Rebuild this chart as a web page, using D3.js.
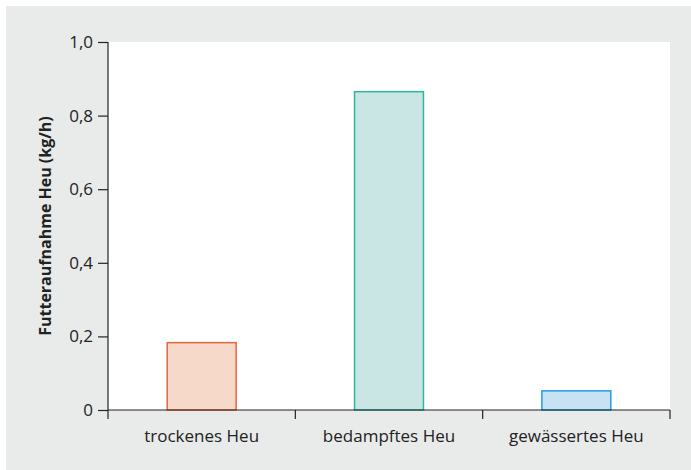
<!DOCTYPE html>
<html>
<head>
<meta charset="utf-8">
<script src="https://cdn.jsdelivr.net/npm/d3@7"></script>
<style>
  body { margin: 0; background: #fff; }
  text { font-family: 'Open Sans', sans-serif; fill: #222; }
</style>
</head>
<body>
<div id="chart"></div>
<script>
const categories = ['trockenes Heu', 'bedampftes Heu', 'gewässertes Heu'];
const values = [0.183, 0.865, 0.052];
const fills = ['#f6d9c8', '#c9e6e4', '#c8e1f3'];
const strokes = ['#e2673f', '#2db4a6', '#22a0de'];
const yTicks = [0, 0.2, 0.4, 0.6, 0.8, 1.0];

const width = 691;
const height = 470;
const margin = {top: 42, right: 21, bottom: 60, left: 108};
const innerWidth = width - margin.left - margin.right;
const innerHeight = height - margin.top - margin.bottom;

const svg = d3.select('#chart').append('svg')
  .attr('width', width)
  .attr('height', height);

// grey panel
svg.append('rect')
  .attr('x', 6).attr('y', 6)
  .attr('width', width - 6).attr('height', height - 6)
  .attr('fill', '#e9eaea');

const g = svg.append('g')
  .attr('transform', `translate(${margin.left}, ${margin.top})`);

g.append('rect')
  .attr('width', innerWidth)
  .attr('height', innerHeight)
  .attr('fill', '#fff');

const yScale = d3.scaleLinear()
  .domain([0, 1])
  .range([innerHeight, 0]);

const xScale = d3.scaleBand()
  .domain(categories)
  .range([0, innerWidth])
  .paddingInner(0.632)
  .paddingOuter(0.316);

const fmt = d => d === 0 ? '0' : d3.format('.1f')(d).replace('.', ',');

const yAxisG = g.append('g')
  .call(d3.axisLeft(yScale)
    .tickValues(yTicks)
    .tickFormat(fmt)
    .tickSize(10)
    .tickPadding(5)
    .tickSizeOuter(0));
yAxisG.select('.domain').remove();
yAxisG.selectAll('text').style('font-size', '17px').attr('fill', '#222');
yAxisG.selectAll('line').attr('stroke', '#222').attr('stroke-width', 1.2);

// y axis line extending below baseline
g.append('line')
  .attr('x1', 0).attr('x2', 0)
  .attr('y1', 0).attr('y2', innerHeight + 9)
  .attr('stroke', '#222').attr('stroke-width', 1.2);

// bars
g.selectAll('.bar')
  .data(categories)
  .enter().append('rect')
  .attr('class', 'bar')
  .attr('x', d => xScale(d))
  .attr('y', (d, i) => yScale(values[i]))
  .attr('width', xScale.bandwidth())
  .attr('height', (d, i) => innerHeight - yScale(values[i]))
  .attr('fill', (d, i) => fills[i])
  .attr('stroke', (d, i) => strokes[i])
  .attr('stroke-width', 1.5);

// x axis
const bounds = d3.range(categories.length + 1).map(i => i * innerWidth / categories.length);
const xAxisG = g.append('g')
  .attr('transform', `translate(0, ${innerHeight})`);
xAxisG.append('line')
  .attr('x1', 0).attr('x2', innerWidth)
  .attr('stroke', '#222').attr('stroke-width', 1.2);
xAxisG.selectAll('.sep')
  .data(bounds.slice(1))
  .enter().append('line')
  .attr('x1', d => d).attr('x2', d => d)
  .attr('y1', 0).attr('y2', 9)
  .attr('stroke', '#222').attr('stroke-width', 1.2);
xAxisG.selectAll('.lbl')
  .data(categories)
  .enter().append('text')
  .attr('x', d => xScale(d) + xScale.bandwidth() / 2)
  .attr('y', 32)
  .attr('text-anchor', 'middle')
  .style('font-size', '17px')
  .text(d => d);

// y axis title
g.append('text')
  .attr('transform', `translate(-57, ${innerHeight / 2}) rotate(-90)`)
  .attr('text-anchor', 'middle')
  .style('font-size', '16px')
  .style('font-weight', 'bold')
  .text('Futteraufnahme Heu (kg/h)');
</script>
</body>
</html>
